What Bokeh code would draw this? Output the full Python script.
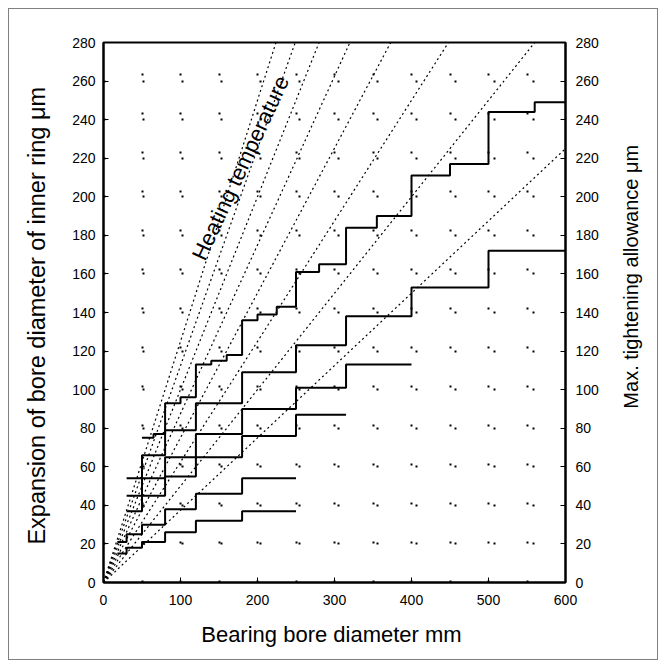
import math
from bokeh.plotting import figure
from bokeh.layouts import row
from bokeh.models import LinearAxis, FixedTicker, Label, Range1d
from bokeh.core.properties import value
from bokeh.embed import file_html
from bokeh.resources import INLINE

# ---------------- data ----------------
bore_ticks = [0, 100, 200, 300, 400, 500, 600]            # mm
bore_grid = [0, 50, 100, 150, 200, 250, 300, 350, 400, 450, 500, 550, 600]
expansion_ticks = [0, 20, 40, 60, 80, 100, 120, 140, 160, 180, 200, 220, 240, 260, 280]  # um
allowance_ticks = [0, 20, 40, 60, 80, 100, 120, 140, 160, 180, 200, 220, 240, 260, 280]  # um

# heating-temperature lines: start at the origin, end point
heat_temps = [30, 40, 50, 60, 70, 80, 90, 100]
heat_end_bore = [600, 560, 448, 373, 320, 280, 249, 224]
heat_end_expansion = [225, 280, 280, 280, 280, 280, 280, 280]

# max. tightening allowance steps (bore-diameter edges, allowance in um)
r6_edges = [50, 65, 80, 100, 120, 140, 160, 180, 200, 225, 250, 280, 315, 355, 400, 450, 500, 560, 600]
r6_vals = [75, 77, 93, 96, 113, 115, 118, 136, 139, 143, 161, 165, 184, 190, 211, 217, 244, 249]
p6_edges = [30, 50, 80, 120, 180, 250, 315, 400, 500, 600]
p6_vals = [54, 66, 79, 93, 109, 123, 138, 153, 172]
n6_edges = [30, 50, 80, 120, 180, 250, 315, 400]
n6_vals = [45, 54, 65, 77, 90, 101, 113]
m6_edges = [30, 50, 80, 120, 180, 250, 315]
m6_vals = [37, 45, 55, 65, 76, 87]
k5_edges = [18, 30, 50, 80, 120, 180, 250]
k5_vals = [21, 25, 30, 38, 46, 54]
j5_edges = [18, 30, 50, 80, 120, 180, 250]
j5_vals = [15, 18, 21, 26, 32, 37]

FONT = "Liberation Sans"

p = figure(frame_width=462, frame_height=540,
           x_range=Range1d(0, 600), y_range=Range1d(0, 280),
           output_backend="svg", toolbar_location=None,
           min_border_left=94, min_border_right=50,
           min_border_top=33, min_border_bottom=77,
           background_fill_color="white", border_fill_color="white")

p.outline_line_color = "black"
p.outline_line_width = 2

# grid: sparse dots
p.xgrid.ticker = FixedTicker(ticks=bore_grid)
p.ygrid.ticker = FixedTicker(ticks=expansion_ticks)
p.grid.grid_line_color = "black"
p.grid.grid_line_width = 2
p.grid.grid_line_dash = "2 37"

# axes
p.xaxis.ticker = FixedTicker(ticks=bore_ticks)
p.yaxis.ticker = FixedTicker(ticks=expansion_ticks)
p.xaxis.axis_label = "Bearing bore diameter  mm"
p.yaxis.axis_label = "Expansion of bore diameter of inner ring  \u03bcm"

right = LinearAxis(ticker=FixedTicker(ticks=allowance_ticks))
p.add_layout(right, "right")

for ax in p.axis:
    ax.axis_line_color = "black"
    ax.axis_line_width = 2
    ax.major_tick_in = 5
    ax.major_tick_out = 0
    ax.minor_tick_line_color = None
    ax.major_tick_line_color = "black"
    ax.major_label_text_font = FONT
    ax.major_label_text_font_size = "14px"
    ax.major_label_text_color = "black"
    ax.axis_label_text_font = FONT
    ax.axis_label_text_font_size = "22px"
    ax.axis_label_text_font_style = "normal"
    ax.axis_label_text_color = "black"

p.yaxis.axis_label_text_font_size = "23.5px"
p.xaxis.major_label_standoff = 12
p.xaxis.axis_label_standoff = 14
p.yaxis.major_label_standoff = 8
p.yaxis.axis_label_standoff = 19
right.major_label_standoff = 10

# heating temperature lines
for t, xb, ye in zip(heat_temps, heat_end_bore, heat_end_expansion):
    p.line([0, xb], [0, ye], line_color="black", line_width=1.2, line_dash="2 3")

# tightening allowance step lines
for edges, vals in [(r6_edges, r6_vals), (p6_edges, p6_vals), (n6_edges, n6_vals),
                    (m6_edges, m6_vals), (k5_edges, k5_vals), (j5_edges, j5_vals)]:
    p.step(edges, vals + [vals[-1]], mode="after", line_color="black", line_width=2)

p.add_layout(Label(x=178, y=215, text="Heating temperature", angle=65, angle_units="deg",
                   text_align="center", text_baseline="middle",
                   text_font=FONT, text_font_size="22px", text_color="black"))

# narrow strip on the right that carries the right-hand axis title (reads bottom to top)
p2 = figure(frame_width=42, frame_height=540,
            x_range=Range1d(0, 42), y_range=p.y_range,
            output_backend="svg", toolbar_location=None,
            min_border_left=0, min_border_right=0,
            min_border_top=33, min_border_bottom=77,
            x_axis_location=None, y_axis_location=None,
            background_fill_color="white", border_fill_color="white")
p2.outline_line_color = None
p2.grid.visible = False
p2.text(x=[15], y=[160], text=["Max. tightening allowance  \u03bcm"], angle=math.pi / 2,
        text_align="center", text_baseline="middle",
        text_font=value(FONT), text_font_size=value("20px"), text_color="black")

layout = row(p, p2, spacing=0)
layout.styles = {"border": "1px solid #808080", "margin-left": "8px", "margin-top": "8px"}

open("out.html", "w").write(file_html(layout, INLINE, "chart"))
